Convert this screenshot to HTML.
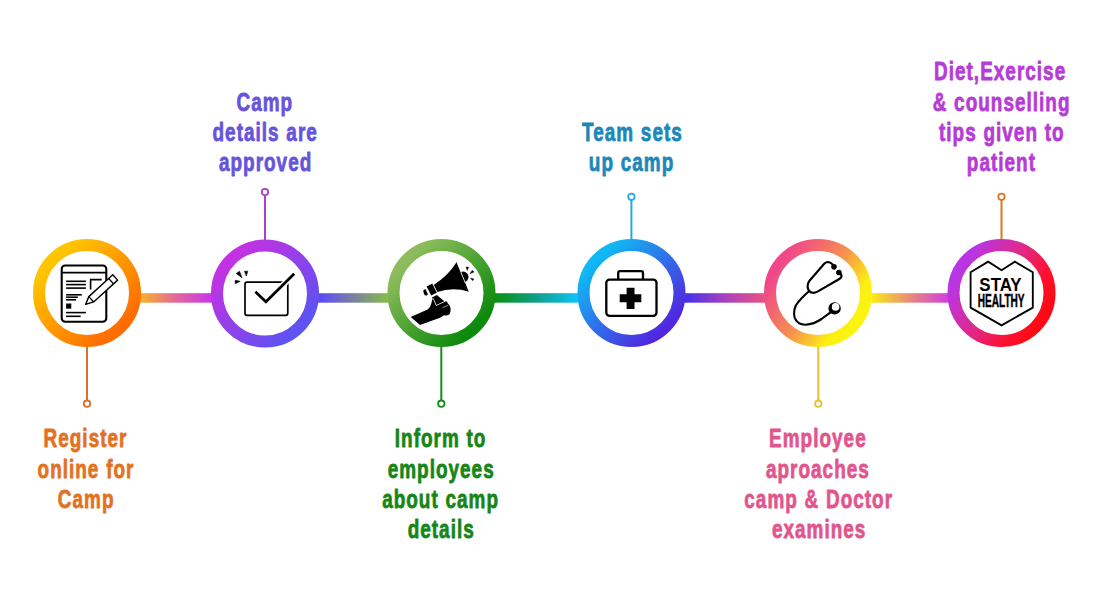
<!DOCTYPE html>
<html>
<head>
<meta charset="utf-8">
<style>
html,body{margin:0;padding:0;background:#fff;}
body{width:1100px;height:600px;overflow:hidden;position:relative;}
svg{position:absolute;left:0;top:0;}
text{font-family:"Liberation Sans",sans-serif;font-weight:bold;}
</style>
</head>
<body>
<svg width="1100" height="600" viewBox="0 0 1100 600">
<defs>
  <linearGradient id="l12" gradientUnits="userSpaceOnUse" x1="141" y1="0" x2="211" y2="0"><stop offset="0" stop-color="#f6b22a"/><stop offset="0.5" stop-color="#e2689a"/><stop offset="1" stop-color="#c838e8"/></linearGradient>
  <linearGradient id="l23" gradientUnits="userSpaceOnUse" x1="319" y1="0" x2="387" y2="0"><stop offset="0" stop-color="#5c48f8"/><stop offset="0.5" stop-color="#7a80a4"/><stop offset="1" stop-color="#86bc4a"/></linearGradient>
  <linearGradient id="l34" gradientUnits="userSpaceOnUse" x1="495" y1="0" x2="578" y2="0"><stop offset="0" stop-color="#0c9010"/><stop offset="0.5" stop-color="#10a088"/><stop offset="1" stop-color="#0cc4fa"/></linearGradient>
  <linearGradient id="l45" gradientUnits="userSpaceOnUse" x1="685" y1="0" x2="764" y2="0"><stop offset="0" stop-color="#4430ea"/><stop offset="0.5" stop-color="#a642c0"/><stop offset="1" stop-color="#ea5280"/></linearGradient>
  <linearGradient id="l56" gradientUnits="userSpaceOnUse" x1="872" y1="0" x2="948" y2="0"><stop offset="0" stop-color="#faea16"/><stop offset="0.5" stop-color="#e88a78"/><stop offset="1" stop-color="#d23ee4"/></linearGradient>

  <linearGradient id="c1" x1="0.15" y1="0.15" x2="0.85" y2="0.85"><stop offset="0" stop-color="#ffc600"/><stop offset="1" stop-color="#ff6c00"/></linearGradient>
  <linearGradient id="c2" x1="0.15" y1="0.15" x2="0.85" y2="0.85"><stop offset="0" stop-color="#c232e2"/><stop offset="1" stop-color="#5e52f2"/></linearGradient>
  <linearGradient id="c3" x1="0.15" y1="0.15" x2="0.85" y2="0.85"><stop offset="0" stop-color="#8ebc5c"/><stop offset="1" stop-color="#0c8a0c"/></linearGradient>
  <linearGradient id="c4" x1="0.15" y1="0.15" x2="0.85" y2="0.85"><stop offset="0" stop-color="#10b8f4"/><stop offset="1" stop-color="#5028e0"/></linearGradient>
  <linearGradient id="c5" x1="0.08" y1="0.22" x2="0.92" y2="0.78"><stop offset="0" stop-color="#f0468a"/><stop offset="0.5" stop-color="#f6904e"/><stop offset="0.85" stop-color="#fcee14"/><stop offset="1" stop-color="#fcf410"/></linearGradient>
  <linearGradient id="c6" x1="0.08" y1="0.25" x2="0.92" y2="0.75"><stop offset="0" stop-color="#b836e6"/><stop offset="0.45" stop-color="#e02888"/><stop offset="0.8" stop-color="#ff1030"/><stop offset="1" stop-color="#ff0a14"/></linearGradient>
</defs>

<!-- connector lines -->
<rect x="135" y="293.2" width="82" height="9.5" fill="url(#l12)"/>
<rect x="313" y="293.2" width="80" height="9.5" fill="url(#l23)"/>
<rect x="489" y="293.2" width="94" height="9.5" fill="url(#l34)"/>
<rect x="680" y="293.2" width="90" height="9.5" fill="url(#l45)"/>
<rect x="866" y="293.2" width="88" height="9.5" fill="url(#l56)"/>

<!-- pins -->
<g fill="#fff" stroke-width="1.8">
  <line x1="87" y1="345" x2="87" y2="400" stroke="#d87030" stroke-width="2"/>
  <circle cx="87" cy="403.7" r="3.2" stroke="#d87030"/>
  <line x1="265" y1="195.5" x2="265" y2="242" stroke="#a542c8" stroke-width="2"/>
  <circle cx="265" cy="192" r="3.2" stroke="#a542c8"/>
  <line x1="441.3" y1="345" x2="441.3" y2="400" stroke="#1a8a1a" stroke-width="2"/>
  <circle cx="441.3" cy="403.7" r="3.2" stroke="#1a8a1a"/>
  <line x1="631.4" y1="200" x2="631.4" y2="242" stroke="#22aae4" stroke-width="2"/>
  <circle cx="631.4" cy="196.8" r="3.2" stroke="#22aae4"/>
  <line x1="818.3" y1="345" x2="818.3" y2="400" stroke="#e8c232" stroke-width="2"/>
  <circle cx="818.3" cy="403.7" r="3.2" stroke="#e8c232"/>
  <line x1="1001.5" y1="200" x2="1001.5" y2="242" stroke="#e07422" stroke-width="2"/>
  <circle cx="1001.5" cy="196.8" r="3.2" stroke="#e07422"/>
</g>

<!-- rings -->
<g fill="#fff" stroke-width="12">
  <circle cx="87" cy="293" r="48" stroke="url(#c1)"/>
  <circle cx="265" cy="293.5" r="48" stroke="url(#c2)"/>
  <circle cx="441.5" cy="293" r="48" stroke="url(#c3)"/>
  <circle cx="631.5" cy="293" r="48" stroke="url(#c4)"/>
  <circle cx="818" cy="293" r="48" stroke="url(#c5)"/>
  <circle cx="1001.5" cy="293" r="48" stroke="url(#c6)"/>
</g>

<!-- icon 1: document + pencil -->
<g fill="none" stroke="#000">
  <rect x="61.7" y="265.5" width="44.6" height="56.2" rx="3.5" stroke-width="2.1"/>
  <line x1="61.7" y1="272.6" x2="106.3" y2="272.6" stroke-width="1.6"/>
  <g stroke-width="1.6">
    <line x1="66.1" y1="281.3" x2="85.9" y2="281.3"/>
    <line x1="66.1" y1="284.6" x2="85.9" y2="284.6"/>
    <line x1="66.1" y1="288.1" x2="85.9" y2="288.1"/>
    <path d="M90.6 289.5V279.6H101.7"/>
    <line x1="66.1" y1="294.8" x2="81.8" y2="294.8"/>
    <line x1="66.1" y1="297.2" x2="77.8" y2="297.2"/>
    <line x1="66.1" y1="299.8" x2="76" y2="299.8"/>
    <line x1="66.1" y1="312.6" x2="85.9" y2="312.6"/>
    <line x1="66.1" y1="316.3" x2="80.7" y2="316.3"/>
  </g>
  <rect x="66.1" y="303.5" width="5.2" height="5.2" fill="#000" stroke="none"/>
  <g transform="translate(85.6 304.4) rotate(-42.3)">
    <path d="M0 0 L7.6 -3.6 H40 V3.6 H7.6 Z" fill="#fff" stroke-width="1.4" stroke-linejoin="round"/>
    <line x1="7.6" y1="-3.6" x2="7.6" y2="3.6" stroke-width="1.3"/>
    <line x1="34.5" y1="-3.6" x2="34.5" y2="3.6" stroke-width="1.3"/>
  </g>
</g>

<!-- icon 2: checkbox -->
<g>
  <rect x="245" y="282.1" width="42.8" height="33.2" rx="2" fill="none" stroke="#000" stroke-width="1.7"/>
  <path d="M255.4 291.8 L265.9 301.8 L294.2 273.8" fill="none" stroke="#fff" stroke-width="6"/>
  <path d="M255.4 291.8 L265.9 301.8 L294.2 273.8" fill="none" stroke="#000" stroke-width="2.7"/>
  <path d="M236.3 273.5 L239.5 271.2 L242 277.7Z M244.5 271.2 L247.8 271.2 L246.3 276Z M235.2 280.3 L235.2 283.7 L240.2 281.3Z" fill="#000" stroke="#000" stroke-width="0.6" stroke-linejoin="round"/>
</g>

<!-- icon 3: megaphone -->
<g fill="#000">
  <path d="M433.6 284.9 Q448.0 276.0 456.7 262.0 L468.8 291.7 Q453.3 286.7 437.2 291.9 Z"/>
  <path d="M461.05 271.9 A5.44 5.44 0 0 1 465.1 282 Z"/>
  <path d="M466 267.1 L468.6 267.1 L467.3 270.4Z M470 273.7 L474.1 271.9 L472.2 270.25Z M470.4 278.1 L473.9 279.05 L472.6 280.7Z" stroke="#000" stroke-width="0.4" stroke-linejoin="round"/>
  <path d="M426.6 286.5 L432.4 283.5 L437.1 292.6 L431.2 295.4 Z"/>
  <path d="M423.3 290.3 L425.8 288.8 L428.2 293.9 L426.3 295.8 Q423.4 295.3 423.3 290.3 Z"/>
  <path d="M432.0 297.6 L436.9 294.9 L444.6 301.4 L436.4 305.4 Z"/>
  <path d="M410.7 317.1 L427.6 309.4 Q430.6 307.6 431.3 303.6 Q432.0 299.2 433.1 298.3 L436.3 305.4 L445.3 301.2 Q447.5 300.9 447.7 303.3 Q450.2 304.9 450.6 308.3 Q450.9 312.3 449.3 314.5 Q446.8 315.9 444.0 315.2 L440.0 317.8 L420.0 325.1 Z"/>
  <path d="M433.1 298.3 L436.3 305.4 L445.5 301.1" fill="none" stroke="#fff" stroke-width="0.75"/>
  <path d="M442.6 307.6 L448.4 305.2" fill="none" stroke="#fff" stroke-width="0.6"/>
  <path d="M425.7 288.8 L428.2 294.1 M432.6 283.3 L437.3 292.7 M431.6 296.4 L437.5 293.7" fill="none" stroke="#fff" stroke-width="0.75"/>
  <path d="M457 262.5 L465.3 283" fill="none" stroke="#fff" stroke-width="0.7"/>
</g>

<!-- icon 4: medical kit -->
<g>
  <rect x="606.3" y="279.6" width="50.2" height="36.2" rx="3.2" fill="none" stroke="#000" stroke-width="2.3"/>
  <path d="M618.2 279.6 V273 Q618.2 271.2 620 271.2 H641.2 Q643 271.2 643 273 V279.6" fill="none" stroke="#000" stroke-width="2.3"/>
  <path d="M626.6 287.8 H634.5 V294.2 H641.3 V302.3 H634.5 V309.1 H626.6 V302.3 H619.7 V294.2 H626.6 Z" fill="#000"/>
</g>

<!-- icon 5: stethoscope -->
<g fill="none" stroke="#000" stroke-width="2.15" stroke-linecap="round" stroke-linejoin="round">
  <path d="M834.3 266.3 Q831 262 827.5 262 Q825.5 262.2 824 264 L809.5 280.8 Q807.3 283.5 807.6 287 Q808.5 292.5 813 292.8 Q815 292.9 817.5 291.6 L839.3 279 Q842.2 277.3 841.3 275 Q840.6 273.5 839 272.4"/>
  <path d="M808.4 291.7 Q800 299 795.8 305.5 Q793.2 311.5 794.6 317.5 Q797 324.6 805.5 324.7 Q814 324.2 821.5 319 L830.5 312.3"/>
</g>
<circle cx="834.6" cy="308.4" r="6.2" fill="#000"/>
<circle cx="835.6" cy="306.9" r="3.8" fill="#fff"/>
<circle cx="834" cy="266.85" r="2.8" fill="#000"/>
<circle cx="838.9" cy="272.45" r="2.8" fill="#000"/>

<!-- icon 6: stay healthy -->
<g>
  <path d="M1001.6 270.2 L988.2 261.7 L970.6 272.2 V307.6 L1001.6 325.4 L1032.8 307.6 V272.2 L1014.9 261.7 Z" fill="none" stroke="#000" stroke-width="1.85" stroke-linejoin="miter"/>
  <text x="0" y="290.8" font-size="18" text-anchor="middle" transform="translate(1000.5 0) scale(0.94 1)" fill="#000">STAY</text>
  <text x="0" y="307.1" font-size="19" text-anchor="middle" transform="translate(1001.2 0) scale(0.53 1)" fill="#000" stroke="#000" stroke-width="0.5">HEALTHY</text>
</g>

<!-- labels -->
<g transform="translate(0 0.4)" font-size="25.6" text-anchor="middle" stroke-width="0.8" stroke-linejoin="round" letter-spacing="1.38" word-spacing="0.6">
  <g fill="#e3711f" stroke="#e3711f" transform="translate(85.3 0) scale(0.74 1)">
    <text x="0.27" y="446.7">Register</text>
    <text x="0.95" y="477.3">online for</text>
    <text x="1.22" y="507.2">Camp</text>
  </g>
  <g fill="#6654dc" stroke="#6654dc" transform="translate(264.8 0) scale(0.74 1)">
    <text x="0" y="110.3">Camp</text>
    <text x="0.54" y="140.4">details are</text>
    <text x="1.08" y="170.5">approved</text>
  </g>
  <g fill="#168616" stroke="#168616" transform="translate(440.6 0) scale(0.74 1)">
    <text x="0" y="446.7">Inform to</text>
    <text x="0.81" y="477.3">employees</text>
    <text x="0" y="507.2">about camp</text>
    <text x="0.81" y="537.2">details</text>
  </g>
  <g fill="#1c88ba" stroke="#1c88ba" transform="translate(631.5 0) scale(0.74 1)">
    <text x="1.22" y="140.6">Team sets</text>
    <text x="0" y="171">up camp</text>
  </g>
  <g fill="#e2558c" stroke="#e2558c" transform="translate(817.9 0) scale(0.74 1)">
    <text x="0" y="446.7">Employee</text>
    <text x="0" y="477.3">aproaches</text>
    <text x="1.08" y="507.2">camp &amp; Doctor</text>
    <text x="1.62" y="537.2">examines</text>
  </g>
  <g fill="#b63cd6" stroke="#b63cd6" transform="translate(1000.8 0) scale(0.74 1)">
    <text x="-0.95" y="79.6">Diet,Exercise</text>
    <text x="1.08" y="110.2">&amp; counselling</text>
    <text x="1.35" y="140.4">tips given to</text>
    <text x="0.81" y="170.6">patient</text>
  </g>
</g>
</svg>
</body>
</html>
